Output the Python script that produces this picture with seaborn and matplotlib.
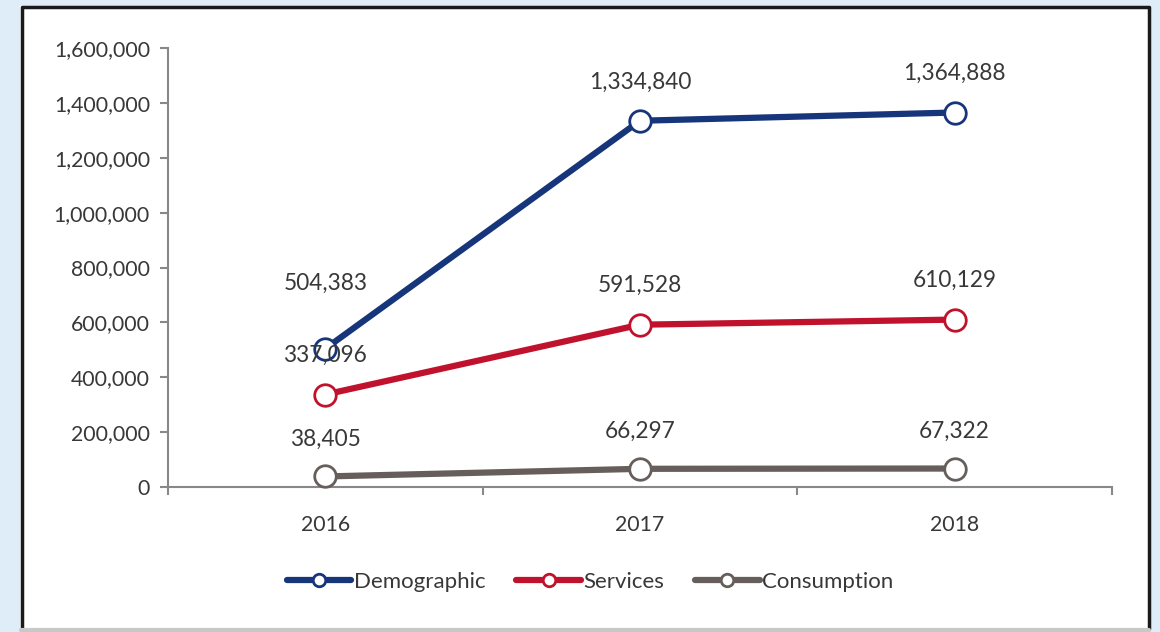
import matplotlib
matplotlib.use("Agg")
import matplotlib.pyplot as plt
import seaborn as sns
import pandas as pd
from matplotlib.lines import Line2D
from matplotlib.patches import Rectangle
from matplotlib.ticker import FuncFormatter, MultipleLocator

years = ["2016", "2017", "2018"]
demographic = [504383, 1334840, 1364888]
services = [337096, 591528, 610129]
consumption = [38405, 66297, 67322]
series_names = ["Demographic", "Services", "Consumption"]
colors = ["#17357a", "#c0122d", "#665e5b"]

sns.set_theme(style="white")
plt.rcParams["font.family"] = ["Lato", "DejaVu Sans"]

W, H = 1160, 632
fig = plt.figure(figsize=(W / 100, H / 100), dpi=100, facecolor="#deedf8")

# white panel with border
fig.patches.append(Rectangle((20 / W, 1 - 629 / H), 1130 / W, 623 / H,
                             transform=fig.transFigure, facecolor="white",
                             edgecolor="none", zorder=-5))
fig.lines.append(Line2D([21.5 / W, 21.5 / W, 1148.5 / W, 1148.5 / W],
                        [1 - 629 / H, 1 - 7 / H, 1 - 7 / H, 1 - 629 / H],
                        transform=fig.transFigure, color="#1a1a1a", lw=2.5))
fig.lines.append(Line2D([21 / W, 1149 / W], [1 - 630 / H, 1 - 630 / H],
                        transform=fig.transFigure, color="#c8c8c8", lw=3))

ax = fig.add_axes([168 / W, 1 - 487 / H, (1112 - 168) / W, (487 - 48) / H])
ax.set_facecolor("none")

df = pd.DataFrame({
    "year": years * 3,
    "x": [0, 1, 2] * 3,
    "value": demographic + services + consumption,
    "series": sum([[n] * 3 for n in series_names], []),
})

for name, col in zip(series_names, colors):
    sub = df[df["series"] == name]
    sns.lineplot(data=sub, x="x", y="value", ax=ax, color=col, lw=4.5,
                 marker="o", markersize=15.5, markerfacecolor="white",
                 markeredgecolor=col, markeredgewidth=2, legend=False,
                 zorder=3, clip_on=False)

txt = "#383838"
# data labels
offsets = {"Demographic": [47, 28, 28], "Services": [28, 28, 28], "Consumption": [27, 27, 27]}
for name in series_names:
    sub = df[df["series"] == name]
    for (xv, yv), off in zip(zip(sub["x"], sub["value"]), offsets[name]):
        ax.annotate(f"{yv:,}", (xv, yv), xytext=(0, off), textcoords="offset points",
                    ha="center", va="center", fontsize=16.3, color=txt, zorder=4)

ax.set_xlim(-0.5, 2.5)
ax.set_ylim(0, 1600000)
ax.yaxis.set_major_locator(MultipleLocator(200000))
ax.yaxis.set_major_formatter(FuncFormatter(lambda v, p: f"{int(v):,}"))
ax.set_xticks([0, 1, 2])
ax.set_xticklabels(years)
ax.set_xticks([-0.5, 0.5, 1.5, 2.5], minor=True)
ax.tick_params(axis="x", which="major", length=0, pad=20, labelsize=15.3, labelcolor=txt)
ax.tick_params(axis="x", which="minor", length=6, width=1.5, color="#888888", direction="out", bottom=True)
ax.tick_params(axis="y", length=6, width=1.5, color="#888888", direction="out", left=True,
               labelsize=15.3, labelcolor=txt, pad=7)
ax.set_xlabel("")
ax.set_ylabel("")
for s in ["top", "right"]:
    ax.spines[s].set_visible(False)
for s in ["left", "bottom"]:
    ax.spines[s].set_color("#888888")
    ax.spines[s].set_linewidth(1.5)

handles = [Line2D([0], [0], color=c, lw=4.5, marker="o", markersize=9,
                  markerfacecolor="white", markeredgecolor=c, markeredgewidth=2)
           for c in colors]
fig.legend(handles, series_names, loc="center", bbox_to_anchor=(590 / W, 1 - 582 / H),
           ncol=3, frameon=False, fontsize=16, handlelength=2.9, handletextpad=0.1,
           columnspacing=1.4, labelcolor=txt)

fig.savefig("out.png", dpi=100, facecolor=fig.get_facecolor())
